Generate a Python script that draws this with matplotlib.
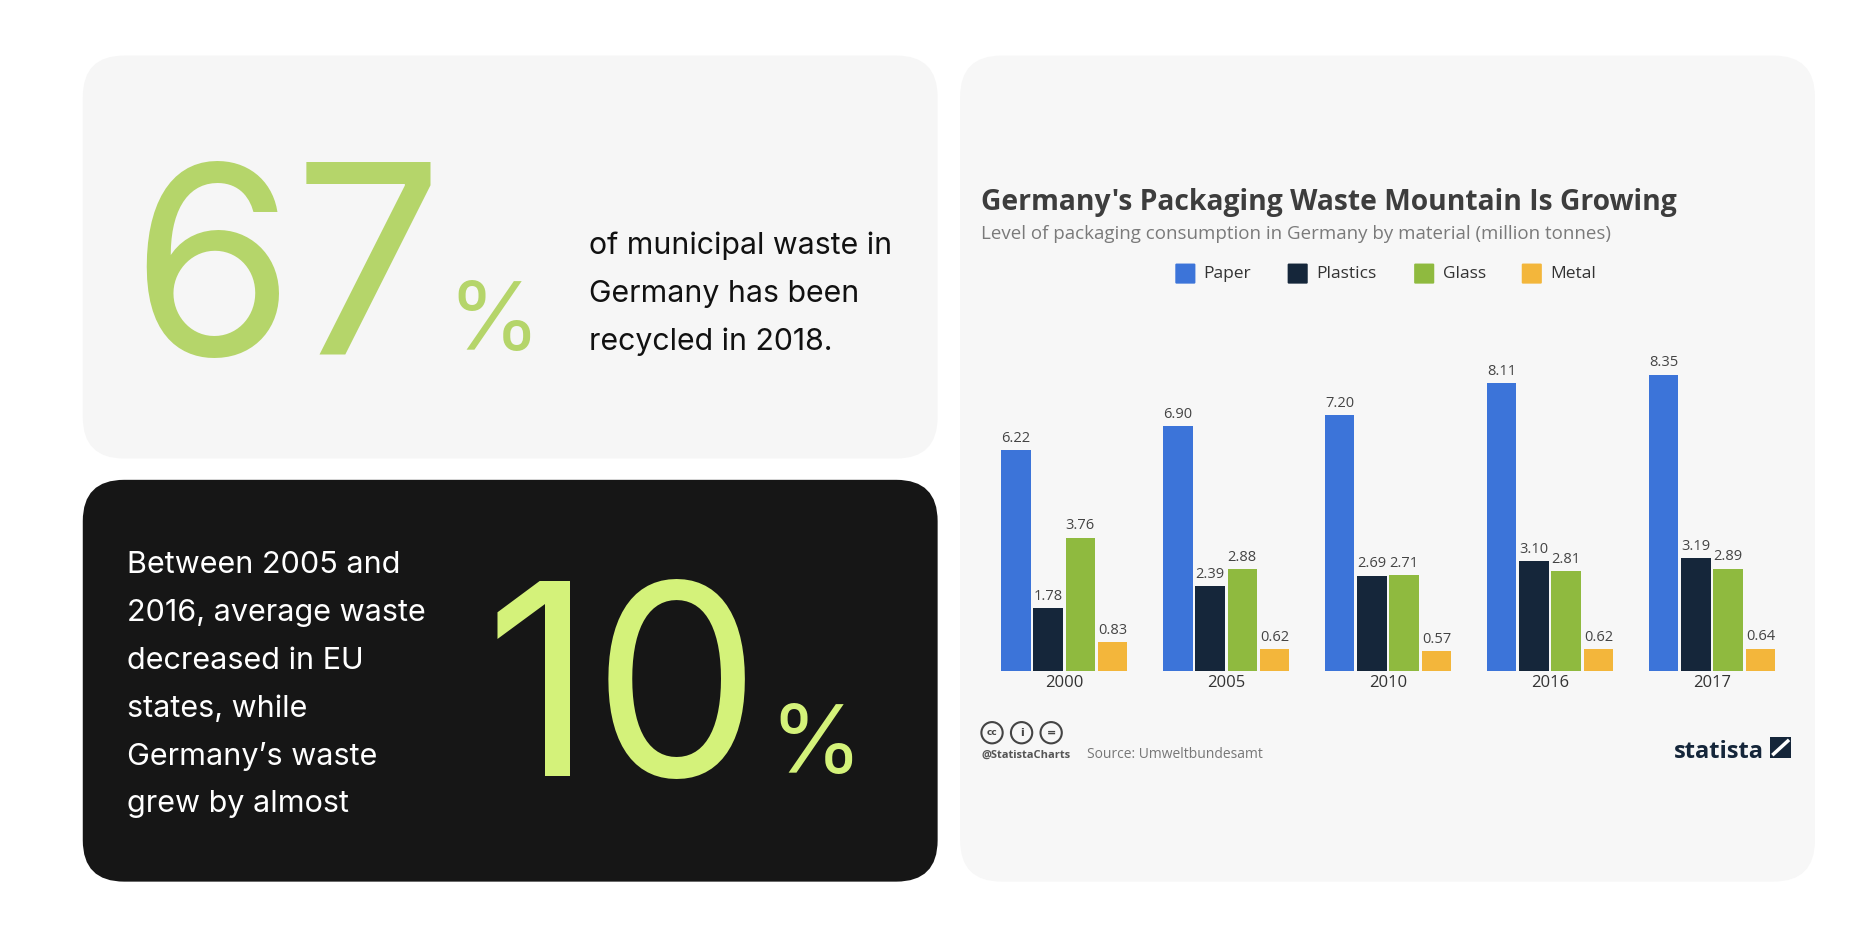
import matplotlib
matplotlib.use("Agg")
import matplotlib.pyplot as plt
from matplotlib.patches import FancyBboxPatch, Rectangle
import numpy as np

years = ["2000", "2005", "2010", "2016", "2017"]
materials = ["Paper", "Plastics", "Glass", "Metal"]
paper = [6.22, 6.90, 7.20, 8.11, 8.35]
plastics = [1.78, 2.39, 2.69, 3.10, 3.19]
glass = [3.76, 2.88, 2.71, 2.81, 2.89]
metal = [0.83, 0.62, 0.57, 0.62, 0.64]
colors = ["#3c74d9", "#15263a", "#8fba3f", "#f3b63b"]

W, H = 1568, 792
fig = plt.figure(figsize=(18.54, 9.36), dpi=100)
bg = fig.add_axes([0, 0, 1, 1])
bg.set_xlim(0, W); bg.set_ylim(H, 0); bg.axis("off")

def card(x0, y0, x1, y1, c):
    bg.add_patch(FancyBboxPatch((x0 + 35, y0 + 35), x1 - x0 - 70, y1 - y0 - 70,
                                boxstyle="round,pad=35", fc=c, ec="none"))

card(70, 47, 793, 388, "#f6f6f6")
card(70, 406, 793, 746, "#161616")
card(812, 47, 1535, 746, "#f7f7f7")

F = "Inter"
bg.text(110, 300, "67", fontsize=190, color="#b5d56a", family=F, va="baseline")
bg.text(378, 296, "%", fontsize=68, color="#b5d56a", family=F, va="baseline")
for i, s in enumerate(["of municipal waste in", "Germany has been", "recycled in 2018."]):
    bg.text(498, 215 + i * 40.5, s, fontsize=21.8, color="#111111", family=F, va="baseline")
for i, s in enumerate(["Between 2005 and", "2016, average waste", "decreased in EU",
                       "states, while", "Germany\u2019s waste", "grew by almost"]):
    bg.text(107, 485 + i * 40.5, s, fontsize=22, color="white", family=F, va="baseline")
bg.text(410, 657, "10", fontsize=192, color="#d4f27a", family=F, va="baseline")
bg.text(651, 654, "%", fontsize=68, color="#d4f27a", family=F, va="baseline")

CF = "Open Sans"
bg.text(830, 178, "Germany's Packaging Waste Mountain Is Growing", fontsize=20.3,
        fontweight="bold", color="#3d3d3d", family=CF, va="baseline")
bg.text(830, 202, "Level of packaging consumption in Germany by material (million tonnes)",
        fontsize=13.5, color="#7a7a7a", family=CF, va="baseline")
lx = [995, 1090, 1197, 1288]
for x, m, c in zip(lx, materials, colors):
    bg.add_patch(FancyBboxPatch((x, 224), 15, 15, boxstyle="round,pad=1", fc=c, ec="none"))
    bg.text(x + 23, 232, m, fontsize=12.5, color="#333333", family=CF, va="center")

# footer
for k, x in enumerate([839, 864, 889]):
    bg.add_patch(plt.Circle((x, 620), 9, fc="none", ec="#444444", lw=1.5))
bg.text(839, 620, "cc", fontsize=6.5, ha="center", va="center", color="#444444", fontweight="bold")
bg.text(864, 620, "i", fontsize=8, ha="center", va="center", color="#444444", fontweight="bold")
bg.text(889, 620, "=", fontsize=8, ha="center", va="center", color="#444444", fontweight="bold")
bg.text(830, 641, "@StatistaCharts", fontsize=8, color="#555555", fontweight="bold", family=CF, va="baseline")
bg.text(919, 641, "Source: Umweltbundesamt", fontsize=10, color="#777777", family=CF, va="baseline")
bg.text(1416, 641, "statista", fontsize=17, color="#15263a", fontweight="bold", family=CF, va="baseline")
bg.add_patch(Rectangle((1497, 624), 18, 17, fc="#15263a", ec="none"))
bg.plot([1500, 1512], [638, 627], color="white", lw=2.5)

# bar chart axes in pixel geometry
axl, axr, axb, axt = 830, 1520, 568, 280
ax = fig.add_axes([axl / W, 1 - axb / H, (axr - axl) / W, (axb - axt) / H])
ax.patch.set_alpha(0)
c0, gs = 900, 137.0
ax.set_xlim((axl - c0) / gs, (axr - c0) / gs)
ax.set_ylim(0, (axb - axt) / 30.06)
x = np.arange(len(years))
bw, step = 25 / gs, 27.3 / gs
for j, (vals, c) in enumerate(zip([paper, plastics, glass, metal], colors)):
    pos = x + (j - 1.5) * step
    ax.bar(pos, vals, width=bw, color=c)
    for p, v in zip(pos, vals):
        ax.text(p, v + 0.12, f"{v:.2f}", ha="center", va="bottom", fontsize=10.5,
                color="#444444", family=CF)
ax.set_xticks(x)
ax.set_xticklabels(years, fontsize=12, color="#333333", family=CF)
ax.tick_params(length=0, pad=3)
ax.set_yticks([])
for s in ax.spines.values():
    s.set_visible(False)

fig.savefig("out.png", dpi=100)
